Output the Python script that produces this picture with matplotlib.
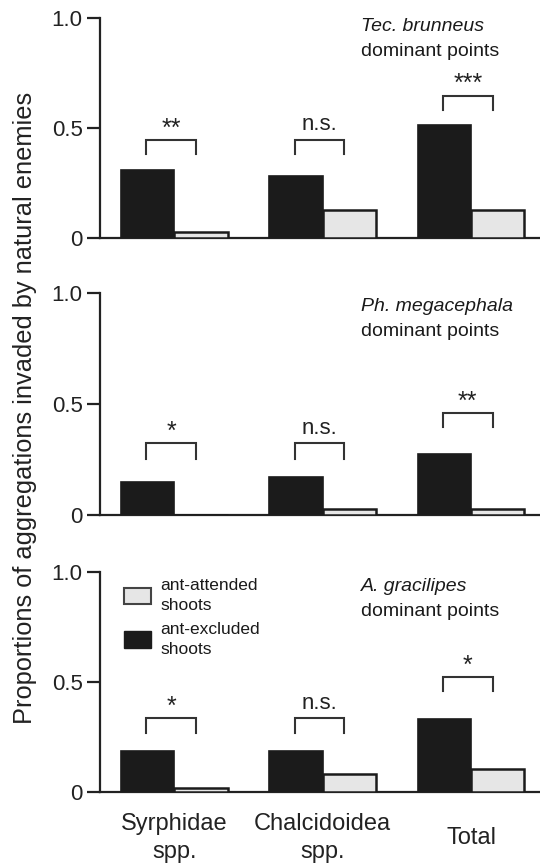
import matplotlib
matplotlib.use("Agg")
import matplotlib.pyplot as plt
import numpy as np
from matplotlib.patches import Patch

plt.rcParams['font.family'] = ['Liberation Sans', 'DejaVu Sans']

categories = ["Syrphidae\nspp.", "Chalcidoidea\nspp.", "Total"]
species = ["Tec. brunneus", "Ph. megacephala", "A. gracilipes"]

excluded = [
    [0.31, 0.285, 0.515],
    [0.15, 0.173, 0.274],
    [0.188, 0.188, 0.333],
]
attended = [
    [0.027, 0.129, 0.129],
    [0.0, 0.026, 0.026],
    [0.018, 0.083, 0.105],
]
sig_labels = [
    ["**", "n.s.", "***"],
    ["*", "n.s.", "**"],
    ["*", "n.s.", "*"],
]
bracket_top = [
    [0.447, 0.447, 0.648],
    [0.323, 0.323, 0.459],
    [0.336, 0.336, 0.525],
]
bracket_low = [
    [0.382, 0.382, 0.583],
    [0.253, 0.253, 0.396],
    [0.271, 0.271, 0.46],
]

yticks = [0, 0.5, 1.0]
ytick_labels = ["0", "0.5", "1.0"]

fig = plt.figure(figsize=(5.4, 8.68), dpi=100)

panel_boxes = [
    [0.1852, 0.7255, 0.83, 0.2535],
    [0.1852, 0.4067, 0.83, 0.2554],
    [0.1852, 0.0872, 0.83, 0.2535],
]
species_y = [(0.962, 0.848), (0.94, 0.827), (0.935, 0.82)]

black = "#1b1b1b"
light = "#e6e6e6"
w = 0.36
x = np.arange(len(categories))

for i in range(3):
    ax = fig.add_axes(panel_boxes[i])
    ax.bar(x - w / 2, excluded[i], width=w, color=black, edgecolor=black, linewidth=1.2, zorder=3)
    ax.bar(x + w / 2, attended[i], width=w, color=light, edgecolor="#1b1b1b", linewidth=1.8, zorder=3)
    ax.set_xlim(-0.502, 2.52)
    ax.set_ylim(0, 1.0)
    for s in ["top", "right"]:
        ax.spines[s].set_visible(False)
    ax.spines["left"].set_linewidth(1.6)
    ax.spines["bottom"].set_linewidth(1.6)
    ax.spines["left"].set_color("#222222")
    ax.spines["bottom"].set_color("#222222")
    ax.set_yticks(yticks)
    ax.set_yticklabels(ytick_labels, fontsize=16, color="#222222")
    ax.tick_params(axis="y", length=9.5, width=1.6, pad=3, color="#222222", direction="out")
    if i == 2:
        ax.set_xticks(x)
        ax.set_xticklabels(categories, fontsize=17, color="#222222", va="center", linespacing=1.35)
        ax.tick_params(axis="x", length=0, pad=33)
    else:
        ax.set_xticks([])

    for j in range(3):
        xl = x[j] - 0.19
        xr = x[j] + 0.145
        ax.plot([xl, xl, xr, xr], [bracket_low[i][j], bracket_top[i][j], bracket_top[i][j], bracket_low[i][j]],
                color="#333333", linewidth=1.5, solid_joinstyle="miter", zorder=4)
        lab = sig_labels[i][j]
        xc = (xl + xr) / 2
        if lab == "n.s.":
            ax.text(xc, bracket_top[i][j] + 0.022, lab, ha="center", va="bottom", fontsize=16, color="#222222")
        else:
            ax.text(xc, bracket_top[i][j] - 0.003, lab, ha="center", va="bottom", fontsize=18, color="#222222")

    ax.text(0.582, species_y[i][0], species[i], transform=ax.transAxes, fontsize=14, style="italic",
            ha="left", va="center", color="#1a1a1a")
    ax.text(0.582, species_y[i][1], "dominant points", transform=ax.transAxes, fontsize=14,
            ha="left", va="center", color="#1a1a1a")

    if i == 2:
        handles = [Patch(facecolor=light, edgecolor="#444444", linewidth=1.5, label="ant-attended\nshoots"),
                   Patch(facecolor=black, edgecolor=black, linewidth=1.0, label="ant-excluded\nshoots")]
        leg = ax.legend(handles=handles, loc="upper left", bbox_to_anchor=(0.053, 0.972), frameon=False,
                        fontsize=12.5, handlelength=1.55, handleheight=1.1, handletextpad=0.55,
                        borderpad=0, borderaxespad=0, labelspacing=0.5)
        for t in leg.get_texts():
            t.set_linespacing(1.4)
            t.set_color("#1a1a1a")

fig.text(0.046, 0.5305, "Proportions of aggregations invaded by natural enemies", rotation=90,
         ha="center", va="center", fontsize=18.3, color="#222222")

fig.savefig("out.png", dpi=100)
